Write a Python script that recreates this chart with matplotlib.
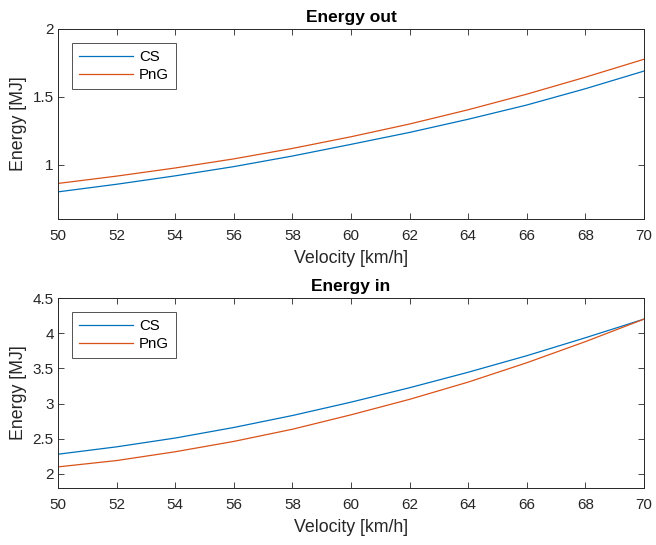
import matplotlib
matplotlib.use("Agg")
from matplotlib import pyplot as plt

plt.rcParams['font.family'] = ['Liberation Sans', 'DejaVu Sans']

velocity = [50, 52, 54, 56, 58, 60, 62, 64, 66, 68, 70]

# Energy out [MJ]
out_cs = [0.800, 0.856, 0.918, 0.986, 1.064, 1.150, 1.238, 1.335, 1.440, 1.560, 1.690]
out_png = [0.862, 0.916, 0.976, 1.043, 1.120, 1.206, 1.300, 1.405, 1.520, 1.645, 1.777]

# Energy in [MJ]
in_cs = [2.280, 2.385, 2.510, 2.660, 2.830, 3.020, 3.225, 3.445, 3.680, 3.935, 4.200]
in_png = [2.100, 2.190, 2.315, 2.462, 2.635, 2.840, 3.060, 3.305, 3.580, 3.880, 4.200]

blue = "#0072BD"
orange = "#D95319"
axcol = "#262626"

fig = plt.figure(figsize=(6.56, 5.45), dpi=100)
ax1 = fig.add_axes([58 / 656, 1 - 219 / 545, 586 / 656, 190 / 545])
ax2 = fig.add_axes([58 / 656, 1 - 488 / 545, 586 / 656, 190 / 545])


def style(ax, title, ylim, yticks):
    ax.set_xlim(50, 70)
    ax.set_ylim(*ylim)
    ax.set_xticks(range(50, 71, 2))
    ax.set_yticks(yticks)
    ax.set_yticklabels([("%g" % t) for t in yticks])
    ax.tick_params(direction="in", top=True, right=True, labelsize=11,
                   colors=axcol, length=4, width=0.6)
    ax.tick_params(axis="x", pad=7)
    ax.tick_params(axis="y", pad=3)
    for s in ax.spines.values():
        s.set_color(axcol)
        s.set_linewidth(0.7)
    ax.set_xlabel("Velocity [km/h]", fontsize=12.8, color=axcol, labelpad=5)
    ax.set_ylabel("Energy [MJ]", fontsize=12.8, color=axcol, labelpad=4)
    ax.set_title(title, fontsize=12.5, fontweight="bold", pad=5)
    leg = ax.legend(loc="upper left", fontsize=10.8, frameon=True, fancybox=False,
                    edgecolor=axcol, handlelength=3.6, borderaxespad=0.95,
                    borderpad=0.45, labelspacing=0.25, handletextpad=0.4)
    leg.get_frame().set_linewidth(0.7)


ax1.plot(velocity, out_cs, color=blue, lw=0.9, label="CS")
ax1.plot(velocity, out_png, color=orange, lw=0.9, label="PnG")
style(ax1, "Energy out", (0.6, 2.0), [1, 1.5, 2])

ax2.plot(velocity, in_cs, color=blue, lw=0.9, label="CS")
ax2.plot(velocity, in_png, color=orange, lw=0.9, label="PnG")
style(ax2, "Energy in", (1.8, 4.5), [2, 2.5, 3, 3.5, 4, 4.5])

fig.savefig("out.png", dpi=100)
